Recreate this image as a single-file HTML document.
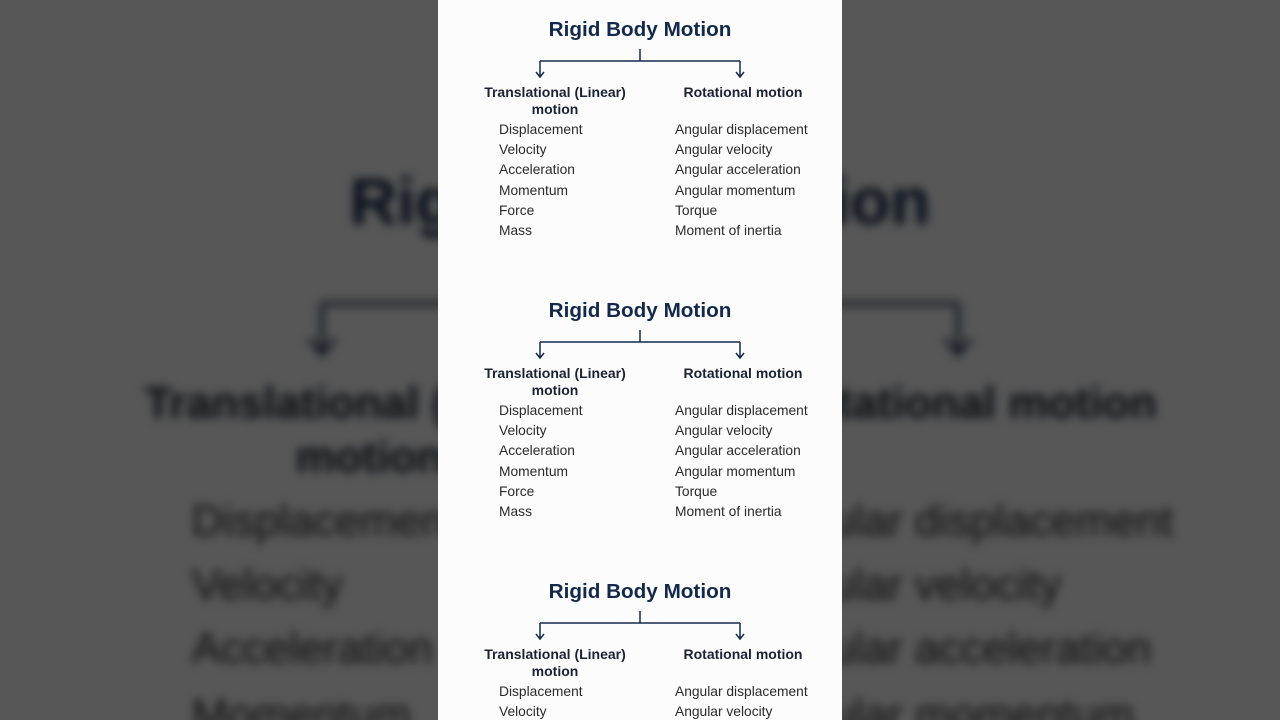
<!DOCTYPE html>
<html><head><meta charset="utf-8"><style>
*{margin:0;padding:0}
html,body{width:1280px;height:720px;overflow:hidden}
body{background:#575757;position:relative;font-family:"Liberation Sans",sans-serif}
.clip{position:absolute;left:0;top:0;width:1280px;height:720px;overflow:hidden}
.bgwrap{position:absolute;left:0;top:0;width:1280px;height:720px;transform-origin:640px 30px;transform:translate(0,175px) scale(3.18);filter:blur(1.5px) brightness(0.34)}
.panel{position:absolute;left:438px;top:0;width:404px;height:720px;background:#fcfcfc;overflow:hidden}
.sec{position:absolute;left:0;width:404px;height:281px}
.t{position:absolute;left:0;width:404px;text-align:center;top:18px;font-weight:bold;font-size:20.7px;color:#13294b}
.h{position:absolute;font-weight:bold;font-size:14px;color:#1a2233;text-align:center;line-height:17px}
.it{position:absolute;font-size:13.8px;color:#2a2a2a;line-height:20.2px}
svg{position:absolute;left:0;top:0}
</style></head><body>
<div class="clip">
<div class="bgwrap"><div class="panel" style="background:#fff">
<div class="sec" style="top:0">
<div class="t">Rigid Body Motion</div>
<svg width="404" height="90"><g stroke="#13294b" stroke-width="1.2" fill="none"><path d="M202 49V61M102 61H302M102 61V77M302 61V77M98 72L102 77L106 72M298 72L302 77L306 72"/></g></svg>
<div class="h" style="left:37px;width:160px;top:84px">Translational (Linear)<br>motion</div>
<div class="h" style="left:225px;width:160px;top:84px">Rotational motion</div>
<div class="it" style="left:61px;top:120px">Displacement<br>Velocity<br>Acceleration<br>Momentum<br>Force<br>Mass</div>
<div class="it" style="left:237px;top:120px">Angular displacement<br>Angular velocity<br>Angular acceleration<br>Angular momentum<br>Torque<br>Moment of inertia</div>
</div></div></div>
<div class="panel">
<div class="sec" style="top:0">
<div class="t">Rigid Body Motion</div>
<svg width="404" height="90"><g stroke="#13294b" stroke-width="1.5" fill="none"><path d="M202 49V61M102 61H302M102 61V77M302 61V77M98 72L102 77L106 72M298 72L302 77L306 72"/></g></svg>
<div class="h" style="left:37px;width:160px;top:84px">Translational (Linear)<br>motion</div>
<div class="h" style="left:225px;width:160px;top:84px">Rotational motion</div>
<div class="it" style="left:61px;top:120px">Displacement<br>Velocity<br>Acceleration<br>Momentum<br>Force<br>Mass</div>
<div class="it" style="left:237px;top:120px">Angular displacement<br>Angular velocity<br>Angular acceleration<br>Angular momentum<br>Torque<br>Moment of inertia</div>
</div>
<div class="sec" style="top:281px">
<div class="t">Rigid Body Motion</div>
<svg width="404" height="90"><g stroke="#13294b" stroke-width="1.5" fill="none"><path d="M202 49V61M102 61H302M102 61V77M302 61V77M98 72L102 77L106 72M298 72L302 77L306 72"/></g></svg>
<div class="h" style="left:37px;width:160px;top:84px">Translational (Linear)<br>motion</div>
<div class="h" style="left:225px;width:160px;top:84px">Rotational motion</div>
<div class="it" style="left:61px;top:120px">Displacement<br>Velocity<br>Acceleration<br>Momentum<br>Force<br>Mass</div>
<div class="it" style="left:237px;top:120px">Angular displacement<br>Angular velocity<br>Angular acceleration<br>Angular momentum<br>Torque<br>Moment of inertia</div>
</div>
<div class="sec" style="top:562px">
<div class="t">Rigid Body Motion</div>
<svg width="404" height="90"><g stroke="#13294b" stroke-width="1.5" fill="none"><path d="M202 49V61M102 61H302M102 61V77M302 61V77M98 72L102 77L106 72M298 72L302 77L306 72"/></g></svg>
<div class="h" style="left:37px;width:160px;top:84px">Translational (Linear)<br>motion</div>
<div class="h" style="left:225px;width:160px;top:84px">Rotational motion</div>
<div class="it" style="left:61px;top:120px">Displacement<br>Velocity<br>Acceleration<br>Momentum<br>Force<br>Mass</div>
<div class="it" style="left:237px;top:120px">Angular displacement<br>Angular velocity<br>Angular acceleration<br>Angular momentum<br>Torque<br>Moment of inertia</div>
</div>
</div>
</div>
</body></html>
